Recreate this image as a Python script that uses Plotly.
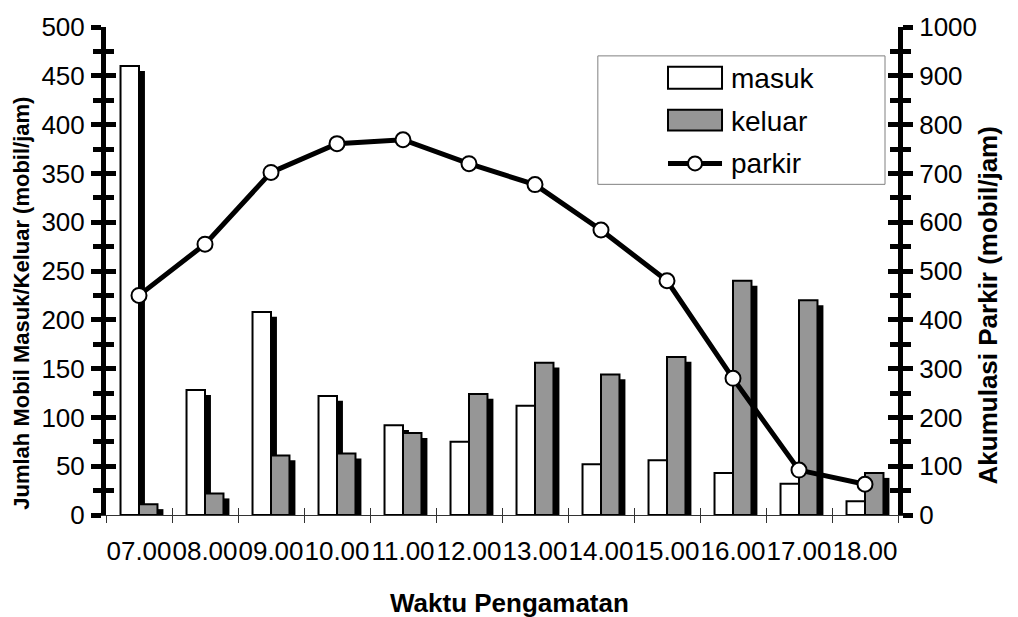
import plotly.graph_objects as go

# ---- data ----
waktu = ["07.00", "08.00", "09.00", "10.00", "11.00", "12.00",
         "13.00", "14.00", "15.00", "16.00", "17.00", "18.00"]
masuk = [460, 128, 208, 122, 92, 75, 112, 52, 56, 43, 32, 14]
keluar = [11, 22, 61, 63, 84, 124, 156, 144, 162, 240, 220, 43]
parkir = [450, 555, 702, 761, 769, 720, 677, 584, 480, 280, 92, 63]

left_ticks = list(range(0, 501, 50))
right_ticks = list(range(0, 1001, 100))

# ---- style ----
FONT = "Liberation Sans, Arial, sans-serif"
BAR_W = 0.28          # bar width in category units
SHADOW_DX = 0.09      # drop-shadow shift to the right (category units)
SHADOW_DY = 5         # drop-shadow shift downward (left-axis units)
GREY = "#969696"

n = len(waktu)
boundaries = [i - 0.5 for i in range(n + 1)]

fig = go.Figure()

# drop shadow + bar for "masuk"
fig.add_trace(go.Bar(x=waktu, y=masuk, base=[-SHADOW_DY] * n,
                     width=BAR_W, offset=-BAR_W + SHADOW_DX,
                     marker=dict(color="black", line=dict(width=0)),
                     hoverinfo="skip"))
fig.add_trace(go.Bar(x=waktu, y=masuk, name="masuk",
                     width=BAR_W, offset=-BAR_W,
                     marker=dict(color="white", line=dict(color="black", width=2))))
# drop shadow + bar for "keluar"
fig.add_trace(go.Bar(x=waktu, y=keluar, base=[-SHADOW_DY] * n,
                     width=BAR_W, offset=SHADOW_DX,
                     marker=dict(color="black", line=dict(width=0)),
                     hoverinfo="skip"))
fig.add_trace(go.Bar(x=waktu, y=keluar, name="keluar",
                     width=BAR_W, offset=0,
                     marker=dict(color=GREY, line=dict(color="black", width=2))))

# accumulated parking on the secondary axis
fig.add_trace(go.Scatter(x=waktu, y=parkir, name="parkir", yaxis="y2",
                         mode="lines+markers", cliponaxis=False,
                         line=dict(color="black", width=5),
                         marker=dict(symbol="circle", size=15, color="white",
                                     line=dict(color="black", width=2))))

# placeholder traces that bind the overlay axes used for inner tick halves
for xa, ya in (("x2", "y"), ("x", "y3"), ("x", "y4")):
    fig.add_trace(go.Scatter(x=[None], y=[None], xaxis=xa, yaxis=ya,
                             mode="markers", hoverinfo="skip", showlegend=False))

tick_font = dict(family=FONT, size=26, color="black")

def yax(rng, ticks, side, inner=False):
    d = dict(range=rng, tickmode="array", tickvals=ticks,
             ticks="inside" if inner else "outside",
             ticklen=10, tickwidth=5, tickcolor="black",
             minor=dict(tickmode="array",
                        tickvals=[t + (ticks[1] - ticks[0]) / 2 for t in ticks[:-1]],
                        ticks="inside" if inner else "outside",
                        ticklen=8, tickwidth=5, tickcolor="black"),
             showgrid=False, zeroline=False, side=side, anchor="x",
             fixedrange=True)
    if inner:
        d.update(showticklabels=False, showline=False)
    else:
        d.update(showline=True, linewidth=5, linecolor="black",
                 tickfont=tick_font, ticklabelstandoff=1)
    return d

layout = dict(
    width=1018, height=617,
    margin=dict(l=106, r=120, t=25, b=102),
    paper_bgcolor="white", plot_bgcolor="white",
    barmode="overlay", showlegend=False,
    font=dict(family=FONT, color="black"),
    xaxis=dict(type="category", categoryorder="array", categoryarray=waktu,
               range=[-0.5, n - 0.5], tickson="boundaries", tickangle=0,
               ticks="outside", ticklen=7, tickwidth=1, tickcolor="#333333",
               showline=True, linewidth=1, linecolor="#333333",
               showgrid=False, zeroline=False, tickfont=tick_font,
               ticklabelstandoff=13, fixedrange=True),
    xaxis2=dict(overlaying="x", anchor="y", range=[-0.5, n - 0.5],
                tickmode="array", tickvals=boundaries,
                ticks="inside", ticklen=7, tickwidth=1, tickcolor="#333333",
                showticklabels=False, showline=False, showgrid=False,
                zeroline=False, fixedrange=True),
    yaxis=yax([0, 500], left_ticks, "left"),
    yaxis2=dict(yax([0, 1000], right_ticks, "right"), overlaying="y"),
    yaxis3=dict(yax([0, 500], left_ticks, "left", inner=True), overlaying="y"),
    yaxis4=dict(yax([0, 1000], right_ticks, "right", inner=True), overlaying="y"),
)
fig.update_layout(**layout)

# axis titles
fig.add_annotation(text="<b>Jumlah Mobil Masuk/Keluar (mobil/jam)</b>",
                   xref="paper", yref="paper", x=-0.106, y=0.433,
                   xanchor="center", yanchor="middle",
                   textangle=-90, showarrow=False,
                   font=dict(family=FONT, size=22, color="black"))
fig.add_annotation(text="<b>Akumulasi Parkir (mobil/jam)</b>",
                   xref="paper", yref="paper", x=1.114, y=0.43,
                   xanchor="center", yanchor="middle",
                   textangle=-90, showarrow=False,
                   font=dict(family=FONT, size=26, color="black"))
fig.add_annotation(text="<b>Waktu Pengamatan</b>",
                   xref="paper", yref="paper", x=0.509, y=-0.18,
                   xanchor="center", yanchor="middle",
                   showarrow=False,
                   font=dict(family=FONT, size=26, color="black"))

# legend box
fig.add_shape(type="rect", xref="paper", yref="paper",
              x0=0.621, x1=0.9836, y0=0.6776, y1=0.9408,
              line=dict(color="#808080", width=1), fillcolor="white", layer="above")
fig.add_shape(type="rect", xref="paper", yref="paper",
              x0=0.7096, x1=0.7778, y0=0.8735, y1=0.9184,
              line=dict(color="black", width=2), fillcolor="white", layer="above")
fig.add_shape(type="rect", xref="paper", yref="paper",
              x0=0.7096, x1=0.7778, y0=0.7878, y1=0.8306,
              line=dict(color="black", width=2), fillcolor=GREY, layer="above")
fig.add_shape(type="line", xref="paper", yref="paper",
              x0=0.7096, x1=0.7778, y0=0.7204, y1=0.7204,
              line=dict(color="black", width=5), layer="above")
fig.add_shape(type="circle", xref="paper", yref="paper",
              xsizemode="pixel", ysizemode="pixel",
              xanchor=0.7437, yanchor=0.7204, x0=-7, x1=7, y0=-7, y1=7,
              line=dict(color="black", width=2), fillcolor="white", layer="above")
for label, yy in (("masuk", 0.8939), ("keluar", 0.806), ("parkir", 0.7204)):
    fig.add_annotation(text=label, xref="paper", yref="paper",
                       x=0.786, y=yy, xanchor="left", yanchor="middle",
                       showarrow=False,
                       font=dict(family=FONT, size=28, color="black"))

fig.write_html("out.html")
